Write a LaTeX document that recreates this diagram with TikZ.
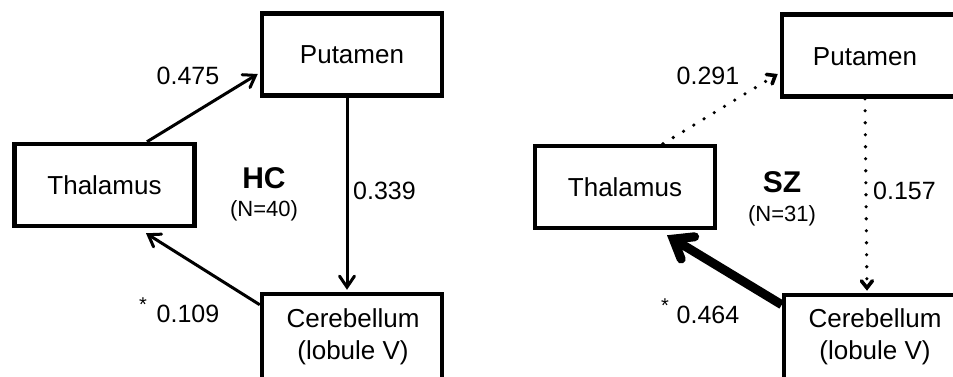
\documentclass[tikz,border=0pt]{standalone}
\usepackage{fontspec}
\setmainfont{Liberation Sans}
\usetikzlibrary{arrows.meta}
\begin{document}
\begin{tikzpicture}[x=1pt,y=-1pt,
  region/.style={draw, line width=4.5pt, minimum width=180pt, minimum height=82pt, inner sep=0pt, font=\fontsize{26}{32}\selectfont},
  lbl/.style={font=\fontsize{26}{32}\selectfont, inner sep=0pt, align=center},
  num/.style={font=\fontsize{25}{30}\selectfont, inner sep=0pt},
  grp/.style={font=\fontsize{30}{34}\selectfont\bfseries, inner sep=0pt},
  nsize/.style={font=\fontsize{22}{26}\selectfont, inner sep=0pt},
  star/.style={font=\fontsize{20}{24}\selectfont, inner sep=0pt, anchor=base},
  conn/.style={line width=3pt, -{Straight Barb[length=11pt,width=15pt,line cap=round]}},
  weak/.style={line width=3.6pt, line cap=round, dash pattern=on 0pt off 12pt, -{Straight Barb[length=7pt,width=11pt,line cap=round]}},
  strong/.style={line width=9pt, -{Straight Barb[length=17pt,width=26pt,line cap=round]}},
]
\useasboundingbox (0,0) rectangle (953,376);
\clip (0,0) rectangle (953,376);

% ---- left panel (HC)
\node[region] (put1) at (352,54.5) {Putamen};
\node[region] (thal1) at (104.5,185) {Thalamus};
\node[region, minimum height=100pt] (cer1) at (352,344) {};
\node[lbl] (cer1t) at (353,337) {Cerebellum\\(lobule V)};

\draw[conn] ([xshift=42.5pt]thal1.north) -- ([xshift=-2pt,yshift=-19.5pt]put1.west);
\draw[conn] ([xshift=-5pt]put1.south) -- ([xshift=-5pt,yshift=2pt]cer1.north);
\draw[conn] ([yshift=-13pt]cer1.north west) -- ([xshift=41.5pt,yshift=-5pt]thal1.south);

\node[num] (w1) at (188,76) {0.475};
\node[num, anchor=west] (w2) at (353,191) {0.339};
\node[grp] (hc) at (264,178) {HC};
\node[nsize] (n1) at (264,211) {(N=40)};
\node[star] (s1) at (143,311) {*};
\node[num] (w3) at (188,314) {0.109};

% ---- right panel (SZ)
\node[region] (put2) at (872,55.5) {};
\node[lbl] (put2t) at (865,57) {Putamen};
\node[region] (thal2) at (625,187) {Thalamus};
\node[region, minimum height=100pt] (cer2) at (874,345) {};
\node[lbl] (cer2t) at (875,337) {Cerebellum\\(lobule V)};

\draw[weak] ([xshift=38pt]thal2.north) -- ([xshift=-2pt,yshift=-18.5pt]put2.west);
\draw[weak] ([xshift=-7pt]put2.south) -- ([xshift=-7pt,yshift=2pt]cer2.north);
\draw[strong] ([yshift=-12pt]cer2.north west) -- ([xshift=42pt,yshift=-5pt]thal2.south);

\node[num] (w4) at (708,76) {0.291};
\node[num, anchor=west] (w5) at (873,191) {0.157};
\node[grp] (sz) at (782,182) {SZ};
\node[nsize] (n2) at (782,216) {(N=31)};
\node[star] (s2) at (665,312) {*};
\node[num] (w6) at (708,315) {0.464};
\end{tikzpicture}
\end{document}
